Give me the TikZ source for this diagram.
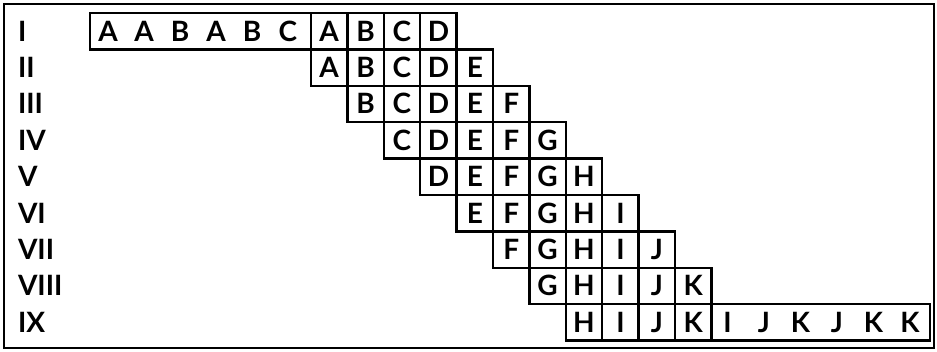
\documentclass[tikz,border=0pt]{standalone}
\usepackage{fontspec}
\setmainfont{Lato}
\newcommand\LetterOf[1]{\ifcase#1 A\or B\or C\or D\or E\or F\or G\or H\or I\or J\or K\fi}
\begin{document}
\begin{tikzpicture}[x=1pt,y=-1pt,
  lettertext/.style={inner sep=0pt,outer sep=0pt,font=\fontsize{28}{28}\selectfont\bfseries,text height=20pt,text depth=0pt},
  cellbox/.style={lettertext,draw,line width=2.5pt,minimum width=36.4pt,minimum height=36.4pt},
  stripbox/.style={draw,line width=2.5pt,minimum height=36.4pt,inner sep=0pt,outer sep=0pt},
  romanlabel/.style={lettertext,anchor=west},
  framebox/.style={draw,line width=2.6pt,inner sep=0pt,outer sep=0pt,minimum width=930pt,minimum height=344pt}]
\useasboundingbox (0,0) rectangle (937,352);
\node[framebox] (frame) at (469,176) {};
% roman labels
\foreach \r/\t in {1/I,2/II,3/III,4/IV,5/V,6/VI,7/VII,8/VIII,9/IX}
  \node[romanlabel] (lab\r) at (18,{13+36.4*(\r-0.5)}) {\t};
% row I left strip
\node[stripbox,minimum width=221pt] (r1strip) at (200.5,31.2) {};
\foreach \x/\t [count=\i] in {108/A,144/A,180/B,216/A,252/B,288/C}
  \node[lettertext] (r1s\i) at (\x,31.2) {\t};
% row I cells
\foreach \c in {0,...,3}
  \node[cellbox] (c1-\c) at ({311+36.4*(\c+0.5)},31.2) {\LetterOf{\c}};
% rows II-IX cells
\foreach \r [evaluate=\r as \cs using {int(\r-2)}, evaluate=\r as \ce using {int(min(\r+2,10))}] in {2,...,9}
  \foreach \c in {\cs,...,\ce}
    \node[cellbox] (c\r-\c) at ({311+36.4*(\c+0.5)},{13+36.4*(\r-0.5)}) {\LetterOf{\c}};
% row IX right strip
\node[stripbox,minimum width=218.4pt] (r9strip) at (820.6,322.4) {};
\foreach \x/\t [count=\i] in {727.5/I,764/J,800.5/K,837/J,873.5/K,910/K}
  \node[lettertext] (r9s\i) at (\x,322.4) {\t};
\end{tikzpicture}
\end{document}
